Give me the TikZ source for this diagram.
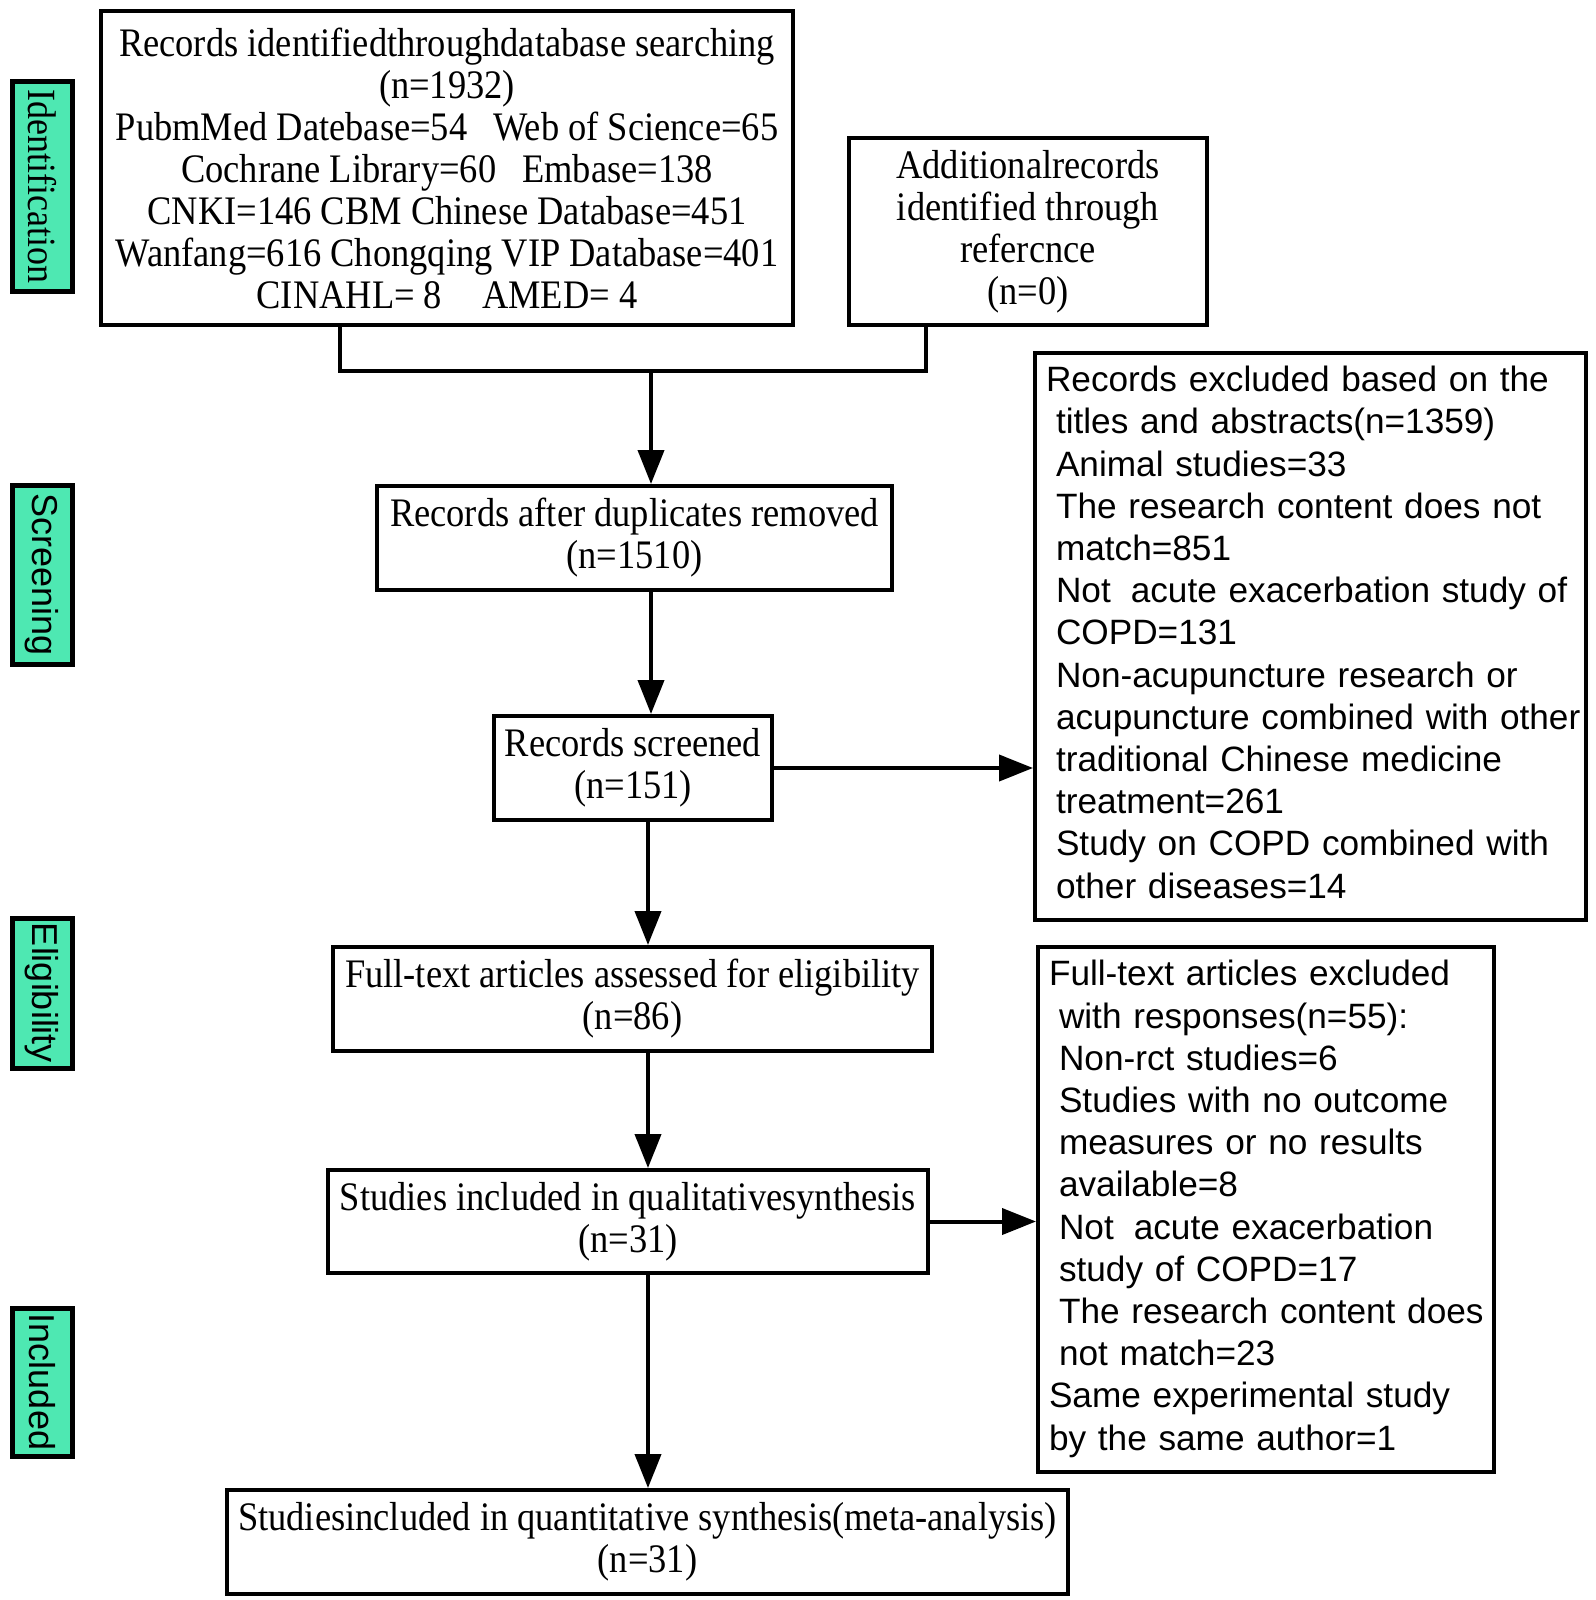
\documentclass[tikz,border=0pt]{standalone}
\usepackage{fontspec}
\setmainfont[FakeStretch=0.9]{Liberation Serif}
\setsansfont{Liberation Sans}
\usetikzlibrary{arrows.meta,calc}
\definecolor{labelgreen}{RGB}{78,232,178}
\begin{document}
\begin{tikzpicture}[x=1pt,y=-1pt,
  box/.style={draw, line width=4pt, rectangle, inner sep=0pt, align=center,
    font=\fontsize{40.5}{42}\selectfont},
  sidebox/.style={draw, line width=4pt, rectangle, inner xsep=11pt, inner ysep=0pt,
    align=left, font=\sffamily\fontsize{35.2}{42.2}\selectfont},
  phase/.style={draw, line width=5pt, fill=labelgreen, rectangle, inner sep=0pt,
    minimum height=60pt, rotate=-90, font=\sffamily\fontsize{36}{42}\selectfont},
  arr/.style={line width=4pt, -{Triangle[length=34pt,width=26pt]}},
  conn/.style={line width=4pt}
]
\useasboundingbox[fill=white] (0,0) rectangle (1595,1600);

% phase labels
\node[phase, minimum width=209pt, font=\rmfamily\fontsize{40}{42}\selectfont] (pid) at (42,186.5) {Identification};
\node[phase, minimum width=179pt] (pscr) at (42,574.5) {Screening};
\node[phase, minimum width=150pt] (pel) at (42,993) {Eligibility};
\node[phase, minimum width=148pt] (pinc) at (42,1382) {Included};

% main boxes
\node[box, minimum width=692pt, minimum height=314pt] (box1) at (447,168)
 {Records identifiedthroughdatabase searching\\
  (n=1932)\\
  PubmMed Datebase=54\hspace{26pt}Web of Science=65\\
  Cochrane Library=60\hspace{26pt}Embase=138\\
  CNKI=146 CBM Chinese Database=451\\
  Wanfang=616 Chongqing VIP Database=401\\
  CINAHL= 8\hspace{40pt}AMED= 4};
\node[box, minimum width=358pt, minimum height=187pt] (box2) at (1028,231.5)
 {Additionalrecords\\ identified through\\ refercnce\\ (n=0)};
\node[box, minimum width=515pt, minimum height=104pt] (box3) at (634.5,538)
 {Records after duplicates removed\\ (n=1510)};
\node[box, minimum width=278pt, minimum height=104pt] (box4) at (633,768)
 {Records screened\\ (n=151)};
\node[box, minimum width=599pt, minimum height=104pt] (box6) at (632.5,999)
 {Full-text articles assessed for eligibility\\ (n=86)};
\node[box, minimum width=600pt, minimum height=103pt] (box7) at (628,1221.5)
 {Studies included in qualitativesynthesis\\ (n=31)};
\node[box, minimum width=841pt, minimum height=104pt] (box9) at (647.5,1542)
 {Studiesincluded in quantitative synthesis(meta-analysis)\\ (n=31)};

% side boxes
\node[sidebox, text width=529pt, minimum height=567pt] (box5) at (1310.5,636.5)
 {\noindent\begin{tabular}{@{}l@{}}
  Records excluded based on the\\
  \hspace*{10pt}titles and abstracts(n=1359)\\
  \hspace*{10pt}Animal studies=33\\
  \hspace*{10pt}The research content does not\\
  \hspace*{10pt}match=851\\
  \hspace*{10pt}Not\hspace{20pt}acute exacerbation study of\\
  \hspace*{10pt}COPD=131\\
  \hspace*{10pt}Non-acupuncture research or\\
  \hspace*{10pt}acupuncture combined with other\\
  \hspace*{10pt}traditional Chinese medicine\\
  \hspace*{10pt}treatment=261\\
  \hspace*{10pt}Study on COPD combined with\\
  \hspace*{10pt}other diseases=14
 \end{tabular}};
\node[sidebox, text width=434pt, minimum height=525pt] (box8) at (1266,1209.5)
 {\noindent\begin{tabular}{@{}l@{}}
  Full-text articles excluded\\
  \hspace*{10pt}with responses(n=55):\\
  \hspace*{10pt}Non-rct studies=6\\
  \hspace*{10pt}Studies with no outcome\\
  \hspace*{10pt}measures or no results\\
  \hspace*{10pt}available=8\\
  \hspace*{10pt}Not\hspace{20pt}acute exacerbation\\
  \hspace*{10pt}study of COPD=17\\
  \hspace*{10pt}The research content does\\
  \hspace*{10pt}not match=23\\
  Same experimental study\\
  by the same author=1
 \end{tabular}};

% connectors
\coordinate (j) at (651,371);
\coordinate (ax) at (651,0);
\coordinate (bx) at (648,0);
\draw[conn] ($(box1.south west)+(241,0)$) |- (j) -| ($(box2.south west)+(79,0)$);
\draw[arr] (j) -- (j |- box3.north);
\draw[arr] (box3.south -| ax) -- (box4.north -| ax);
\draw[arr] (box4.east) -- (box5.west |- box4.east);
\draw[arr] (box4.south -| bx) -- (box6.north -| bx);
\draw[arr] (box6.south -| bx) -- (box7.north -| bx);
\draw[arr] (box7.east) -- (box8.west |- box7.east);
\draw[arr] (box7.south -| bx) -- (box9.north -| bx);
\end{tikzpicture}
\end{document}
